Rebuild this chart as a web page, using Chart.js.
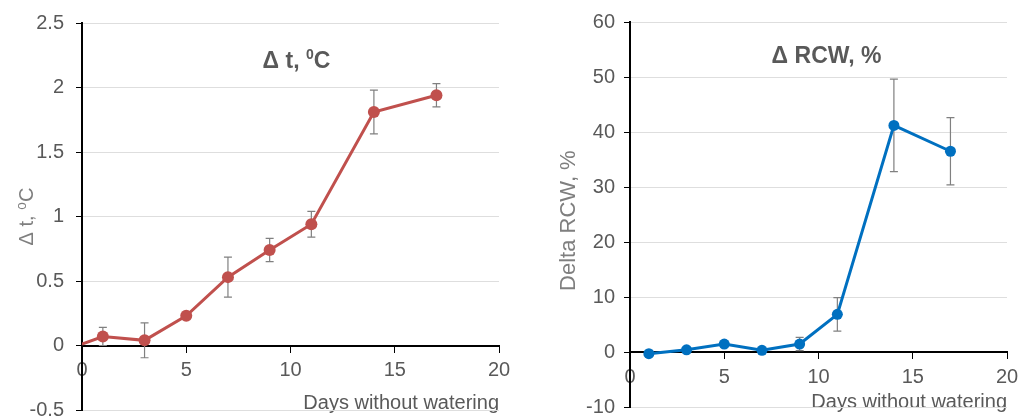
<!DOCTYPE html>
<html>
<head>
<meta charset="utf-8">
<script src="https://cdn.jsdelivr.net/npm/chart.js@4/dist/chart.umd.min.js"></script>
<style>
  body { margin: 0; background: #fff; }
  .row { display: flex; width: 1032px; height: 418px; }
</style>
</head>
<body>
<div class="row">
  <canvas id="tempChart" width="520" height="418"></canvas>
  <canvas id="rcwChart" width="512" height="418"></canvas>
</div>
<script>
// ===== データ =====
const tempDays = [0, 1, 3, 5, 7, 9, 11, 14, 17];
const deltaT   = [0.01, 0.07, 0.04, 0.23, 0.53, 0.74, 0.94, 1.81, 1.94];
const deltaTErr = [0, 0.07, 0.135, 0.02, 0.155, 0.09, 0.10, 0.17, 0.09];

const rcwDays  = [1, 3, 5, 7, 9, 11, 14, 17];
const deltaRCW = [-0.3, 0.4, 1.45, 0.3, 1.45, 6.85, 41.2, 36.5];
const rcwErr   = [0.3, 0.4, 0.5, 0.4, 1.2, 3.05, 8.4, 6.1];

const xTicks = [0, 5, 10, 15, 20];
const tempTicks = [-0.5, 0, 0.5, 1, 1.5, 2, 2.5];
const rcwTicks = [-10, 0, 10, 20, 30, 40, 50, 60];

const FONT = "'Liberation Sans', Arial, 'DejaVu Sans', sans-serif";
const GREY_TEXT = '#595959';

// ===== エラーバー =====
const errorBars = {
  id: 'errorBars',
  beforeDatasetsDraw(chart) {
    const { ctx, scales: { x, y } } = chart;
    ctx.save();
    ctx.strokeStyle = '#808080';
    ctx.lineWidth = 1.2;
    chart.data.datasets.forEach(ds => {
      (ds.errors || []).forEach((e, i) => {
        if (!e) return;
        const p = ds.data[i];
        const px = x.getPixelForValue(p.x);
        const top = y.getPixelForValue(p.y + e);
        const bot = y.getPixelForValue(p.y - e);
        ctx.beginPath();
        ctx.moveTo(px, top); ctx.lineTo(px, bot);
        ctx.moveTo(px - 4, top); ctx.lineTo(px + 4, top);
        ctx.moveTo(px - 4, bot); ctx.lineTo(px + 4, bot);
        ctx.stroke();
      });
    });
    ctx.restore();
  }
};

// ===== 図中タイトル =====
const innerTitle = {
  id: 'innerTitle',
  afterDraw(chart, args, opts) {
    const { ctx, chartArea } = chart;
    const size = opts.size;
    const big = `bold ${size}px ${FONT}`;
    const small = `bold ${Math.round(size * 0.62)}px ${FONT}`;
    ctx.save();
    ctx.fillStyle = GREY_TEXT;
    ctx.textBaseline = 'alphabetic';
    ctx.textAlign = 'left';
    let total = 0;
    opts.parts.forEach(p => { ctx.font = p.sup ? small : big; total += ctx.measureText(p.t).width; });
    let cx = (chartArea.left + chartArea.right) / 2 + opts.dx - total / 2;
    const by = chartArea.top + opts.dy;
    opts.parts.forEach(p => {
      ctx.font = p.sup ? small : big;
      ctx.fillText(p.t, cx, p.sup ? by - size * 0.38 : by);
      cx += ctx.measureText(p.t).width;
    });
    ctx.restore();
  }
};

function makeChart(id, xs, ys, errs, cfg) {
  const ctx = document.getElementById(id);
  return new Chart(ctx, {
    type: 'line',
    data: {
      datasets: [{
        data: xs.map((d, i) => ({ x: d, y: ys[i] })),
        errors: errs,
        borderColor: cfg.color,
        backgroundColor: cfg.color,
        borderWidth: 3,
        pointRadius: xs.map(d => (cfg.hideFirst && d === 0 ? 0 : cfg.radius)),
        pointBorderWidth: 0,
        tension: 0
      }]
    },
    options: {
      responsive: false,
      devicePixelRatio: 1,
      animation: false,
      layout: { padding: cfg.padding },
      plugins: {
        legend: { display: false },
        tooltip: { enabled: false },
        innerTitle: cfg.title
      },
      scales: {
        x: {
          type: 'linear',
          position: { y: 0 },
          min: 0, max: 20,
          afterBuildTicks: s => { s.ticks = xTicks.map(v => ({ value: v })); },
          grid: { drawOnChartArea: false, tickLength: 6, tickColor: '#000' },
          border: { color: '#000', width: 2 },
          ticks: { color: GREY_TEXT, padding: 7, font: { family: FONT, size: 20 }, callback: v => String(v) },
          title: {
            display: true, text: 'Days without watering', align: 'end',
            color: GREY_TEXT, font: { family: FONT, size: 20 },
            padding: { top: cfg.xTitlePad, bottom: 0 }
          }
        },
        y: {
          position: 'left',
          min: cfg.yTicks[0], max: cfg.yTicks[cfg.yTicks.length - 1],
          afterBuildTicks: s => { s.ticks = cfg.yTicks.map(v => ({ value: v })); },
          afterFit: s => { s.width = cfg.yWidth; s.paddingTop = 0; s.paddingBottom = 0; },
          grid: {
            color: c => (c.tick && c.tick.value === 0 ? 'rgba(0,0,0,0)' : '#dedede'),
            tickLength: 6, tickColor: '#000'
          },
          border: { color: '#000', width: 2 },
          ticks: { color: GREY_TEXT, padding: cfg.yTickPad, font: { family: FONT, size: 20 }, callback: v => String(v) },
          title: {
            display: true, text: cfg.yTitle, color: '#7f7f7f',
            font: { family: FONT, size: cfg.yTitleSize },
            padding: { top: cfg.yTitlePad, bottom: 0 }
          }
        }
      }
    },
    plugins: [errorBars, innerTitle]
  });
}

document.addEventListener('DOMContentLoaded', () => {
  makeChart('tempChart', tempDays, deltaT, deltaTErr, {
    color: '#C0504D', radius: 6, hideFirst: true,
    padding: { top: 23, right: 21, bottom: 8, left: 0 },
    yTicks: tempTicks, yWidth: 82, yTickPad: 12, xTitlePad: 2,
    yTitle: 'Δ t, ⁰C', yTitleSize: 20, yTitlePad: 15,
    title: { parts: [{ t: 'Δ t, ' }, { t: '0', sup: true }, { t: 'C' }], size: 23, dx: 6, dy: 45 }
  });
  makeChart('rcwChart', rcwDays, deltaRCW, rcwErr, {
    color: '#0070C0', radius: 5.5, hideFirst: false,
    padding: { top: 22, right: 25, bottom: 11, left: 0 },
    yTicks: rcwTicks, yWidth: 110, yTickPad: 9, xTitlePad: -6,
    yTitle: 'Delta RCW, %  ', yTitleSize: 22, yTitlePad: 36,
    title: { parts: [{ t: 'Δ RCW, %' }], size: 23, dx: 8, dy: 41 }
  });
});
</script>
</body>
</html>
